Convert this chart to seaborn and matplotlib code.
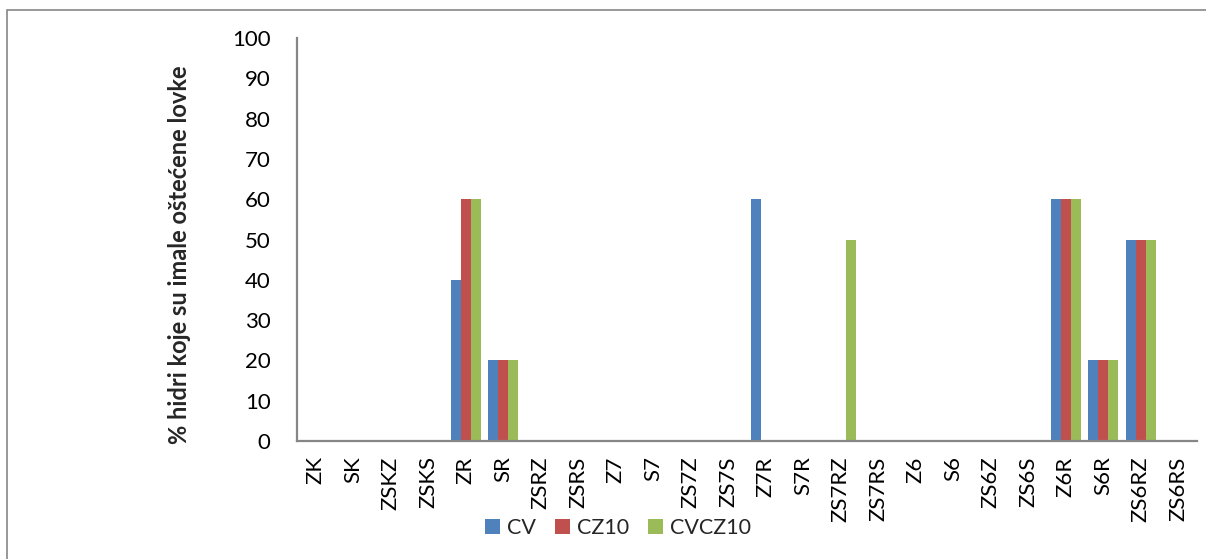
import matplotlib
matplotlib.use("Agg")
import matplotlib.pyplot as plt
import seaborn as sns
import pandas as pd
from matplotlib.patches import Rectangle

categories = ["ZK", "SK", "ZSKZ", "ZSKS", "ZR", "SR", "ZSRZ", "ZSRS", "Z7", "S7",
              "ZS7Z", "ZS7S", "Z7R", "S7R", "ZS7RZ", "ZS7RS", "Z6", "S6", "ZS6Z",
              "ZS6S", "Z6R", "S6R", "ZS6RZ", "ZS6RS"]
cv     = [0, 0, 0, 0, 40, 20, 0, 0, 0, 0, 0, 0, 60, 0, 0, 0, 0, 0, 0, 0, 60, 20, 50, 0]
cz10   = [0, 0, 0, 0, 60, 20, 0, 0, 0, 0, 0, 0, 0, 0, 0, 0, 0, 0, 0, 0, 60, 20, 50, 0]
cvcz10 = [0, 0, 0, 0, 60, 20, 0, 0, 0, 0, 0, 0, 0, 0, 50, 0, 0, 0, 0, 0, 60, 20, 50, 0]
series_names = ["CV", "CZ10", "CVCZ10"]
colors = ["#4F81BD", "#C0504D", "#9BBB59"]
yticks = list(range(0, 101, 10))

rows = []
for name, vals in zip(series_names, [cv, cz10, cvcz10]):
    for c, v in zip(categories, vals):
        rows.append({"cat": c, "series": name, "val": v})
df = pd.DataFrame(rows)

sns.set_theme(style="white")
plt.rcParams["font.family"] = ["Lato", "DejaVu Sans"]

fig = plt.figure(figsize=(12.06, 5.59), dpi=100)
ax = fig.add_axes([297/1206, 1-441/559, 900/1206, (441-38)/559])

sns.barplot(data=df, x="cat", y="val", hue="series", order=categories,
            hue_order=series_names, palette=colors, width=0.8, gap=0,
            saturation=1, edgecolor="none", linewidth=0, ax=ax, legend=True)

ax.set_xlim(-0.5, len(categories) - 0.5)
ax.set_ylim(0, 100)
ax.set_yticks(yticks)
ax.set_yticklabels([str(t) for t in yticks], fontsize=16)
ax.tick_params(axis="y", length=0, pad=19, colors="black")
ax.tick_params(axis="x", length=0, pad=11, colors="black", labelsize=16)
for lab in ax.get_xticklabels():
    lab.set_rotation(90)
ax.set_xlabel("")
ax.set_ylabel("")
for s in ["top", "right"]:
    ax.spines[s].set_visible(False)
for s in ["left", "bottom"]:
    ax.spines[s].set_color("#868686")
    ax.spines[s].set_linewidth(1.6)

fig.text(180/1206, 1-255/559, "% hidri koje su imale oštećene lovke",
         rotation=90, ha="center", va="center", fontsize=17, fontweight="bold")

handles, labels = ax.get_legend_handles_labels()
ax.get_legend().remove()
fig.legend(handles, labels, loc="center", bbox_to_anchor=(618/1206, 1-528/559),
           ncol=3, frameon=False, fontsize=15.5, handlelength=0.7, handleheight=0.7,
           handletextpad=0.3, columnspacing=0.9)

fig.patches.append(Rectangle((7/1206, -0.05), 1.2, 1-10/559+0.05, transform=fig.transFigure,
                             fill=False, edgecolor="#868686", linewidth=1.2))

fig.savefig("out.png", dpi=100)
